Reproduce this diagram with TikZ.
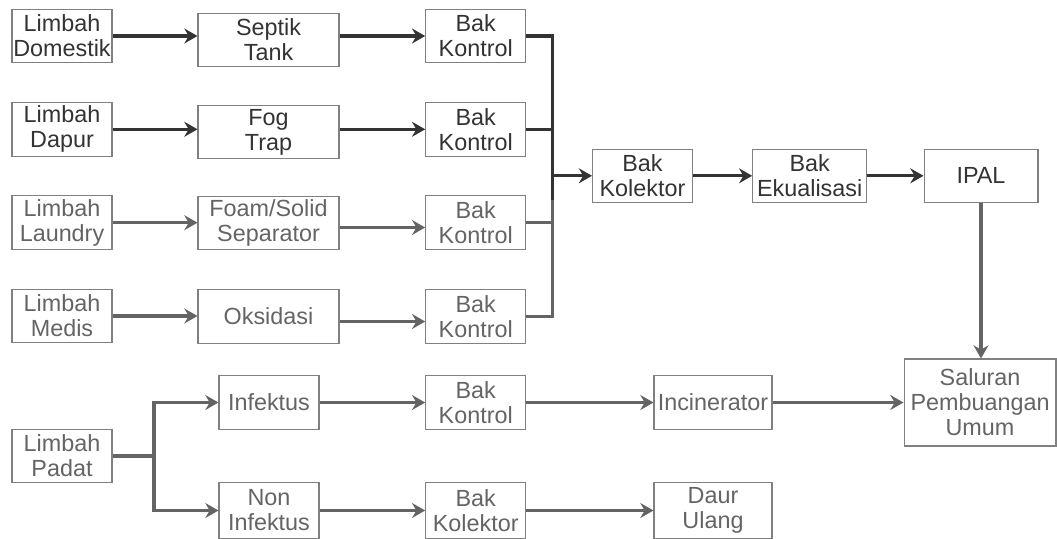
\documentclass[tikz,border=0pt]{standalone}
\usepackage{fontspec}
\setmainfont{Liberation Sans}
\usetikzlibrary{arrows.meta}

\definecolor{ink}{HTML}{333333}
\definecolor{inkgray}{HTML}{646464}
\definecolor{edge}{HTML}{808080}

\tikzset{
  box/.style={draw=edge, line width=0.6pt, minimum width=2cm, minimum height=1.07cm,
    align=center, inner sep=0.5pt, text=ink, font=\fontsize{13.3}{14.2}\selectfont},
  pale/.style={text=inkgray},
  wire/.style={line width=1.9pt, draw=ink},
  flow/.style={wire, -{Stealth[length=7.5pt,width=8.5pt,inset=2.5pt]}},
  paleflow/.style={flow, draw=inkgray}
}

\begin{document}
\begin{tikzpicture}[x=0.02cm, y=-0.02cm]
\useasboundingbox (0,0) rectangle (1057,538);

% sumber limbah
\node (ld) at (62,36) [box]{Limbah\\Domestik};
\node (lp) at (62,129.3) [box]{Limbah\\Dapur};
\node (ll) at (62,222.7) [box,pale]{Limbah\\Laundry};
\node (lm) at (62,316) [box,pale]{Limbah\\Medis};
\node (lpd) at (62,456) [box,pale]{Limbah\\Padat};

% pengolahan awal
\node (st) at (268.5,40) [box,minimum width=2.82cm]{Septik\\Tank};
\node (ft) at (268.5,132) [box,minimum width=2.82cm]{Fog\\Trap};
\node (fs) at (268.5,223) [box,pale,minimum width=2.82cm]{Foam/Solid\\Separator};
\node (ok) at (268.5,316.5) [box,pale,minimum width=2.82cm]{Oksidasi};
\node (inf) at (269,402.5) [box,pale]{Infektus};
\node (ninf) at (269,510.5) [box,pale,minimum height=1.11cm]{Non\\Infektus};

% bak kontrol
\node (bk1) at (475.7,36) [box]{Bak\\Kontrol};
\node (bk2) at (475.7,129.3) [box]{Bak\\Kontrol};
\node (bk3) at (475.7,222.7) [box,pale]{Bak\\Kontrol};
\node (bk4) at (475.7,316.5) [box,pale]{Bak\\Kontrol};
\node (bk5) at (475.7,402.5) [box,pale]{Bak\\Kontrol};
\node (kol2) at (475.7,510.5) [box,pale,minimum height=1.11cm]{Bak\\Kolektor};

% jalur utama
\node (kol) at (642.5,175.8) [box]{Bak\\Kolektor};
\node (eq) at (809.7,175.8) [box,minimum width=2.28cm]{Bak\\Ekualisasi};
\node (ipal) at (981,175.8) [box,minimum width=2.28cm]{IPAL};
\node (inc) at (713,402.5) [box,pale,minimum width=2.36cm]{Incinerator};
\node (du) at (713,510.5) [box,pale,minimum width=2.36cm,minimum height=1.11cm]{Daur\\Ulang};
\node (spu) at (980,402.5) [box,pale,minimum width=3.04cm,minimum height=1.74cm]{Saluran\\Pembuangan\\Umum};

% baris limbah cair
\draw [flow](ld.east)--(ld.east -| st.west);
\draw [flow](st.east |- bk1)--(bk1.west);
\draw [flow](lp.east)--(lp.east -| ft.west);
\draw [flow](ft.east |- bk2)--(bk2.west);
\draw [paleflow](ll.east)--(ll.east -| fs.west);
\draw [paleflow]([yshift=-0.09cm]fs.east)--([yshift=-0.09cm]fs.east -| bk3.west);
\draw [paleflow](lm.east)--(lm.east -| ok.west);
\draw [paleflow]([yshift=-0.1cm]ok.east)--([yshift=-0.1cm]ok.east -| bk4.west);

% saluran gabungan
\coordinate (jt) at (552.7,36);
\coordinate (jm) at (552.7,200);
\coordinate (jb) at (552.7,316.5);
\draw [wire](bk1.east)--(jt)--(jm);
\draw [wire](bk2.east)--(bk2.east -| jt);
\draw [wire,draw=inkgray](jm)--(jb)--(bk4.east);
\draw [wire,draw=inkgray](bk3.east)--(bk3.east -| jt);
\draw [flow](jt |- kol)--(kol.west);
\draw [flow](kol.east)--(eq.west);
\draw [flow](eq.east)--(ipal.west);
\draw [paleflow](ipal.south)--(ipal.south |- spu.north);

% limbah padat
\coordinate (cb) at (154,456);
\draw [wire,draw=inkgray](lpd.east)--(cb);
\draw [paleflow](cb)|-(inf.west);
\draw [paleflow](cb)|-(ninf.west);
\draw [paleflow](inf.east)--(bk5.west);
\draw [paleflow](bk5.east)--(inc.west);
\draw [paleflow](inc.east)--(spu.west);
\draw [paleflow](ninf.east)--(kol2.west);
\draw [paleflow](kol2.east)--(du.west);
\end{tikzpicture}
\end{document}
